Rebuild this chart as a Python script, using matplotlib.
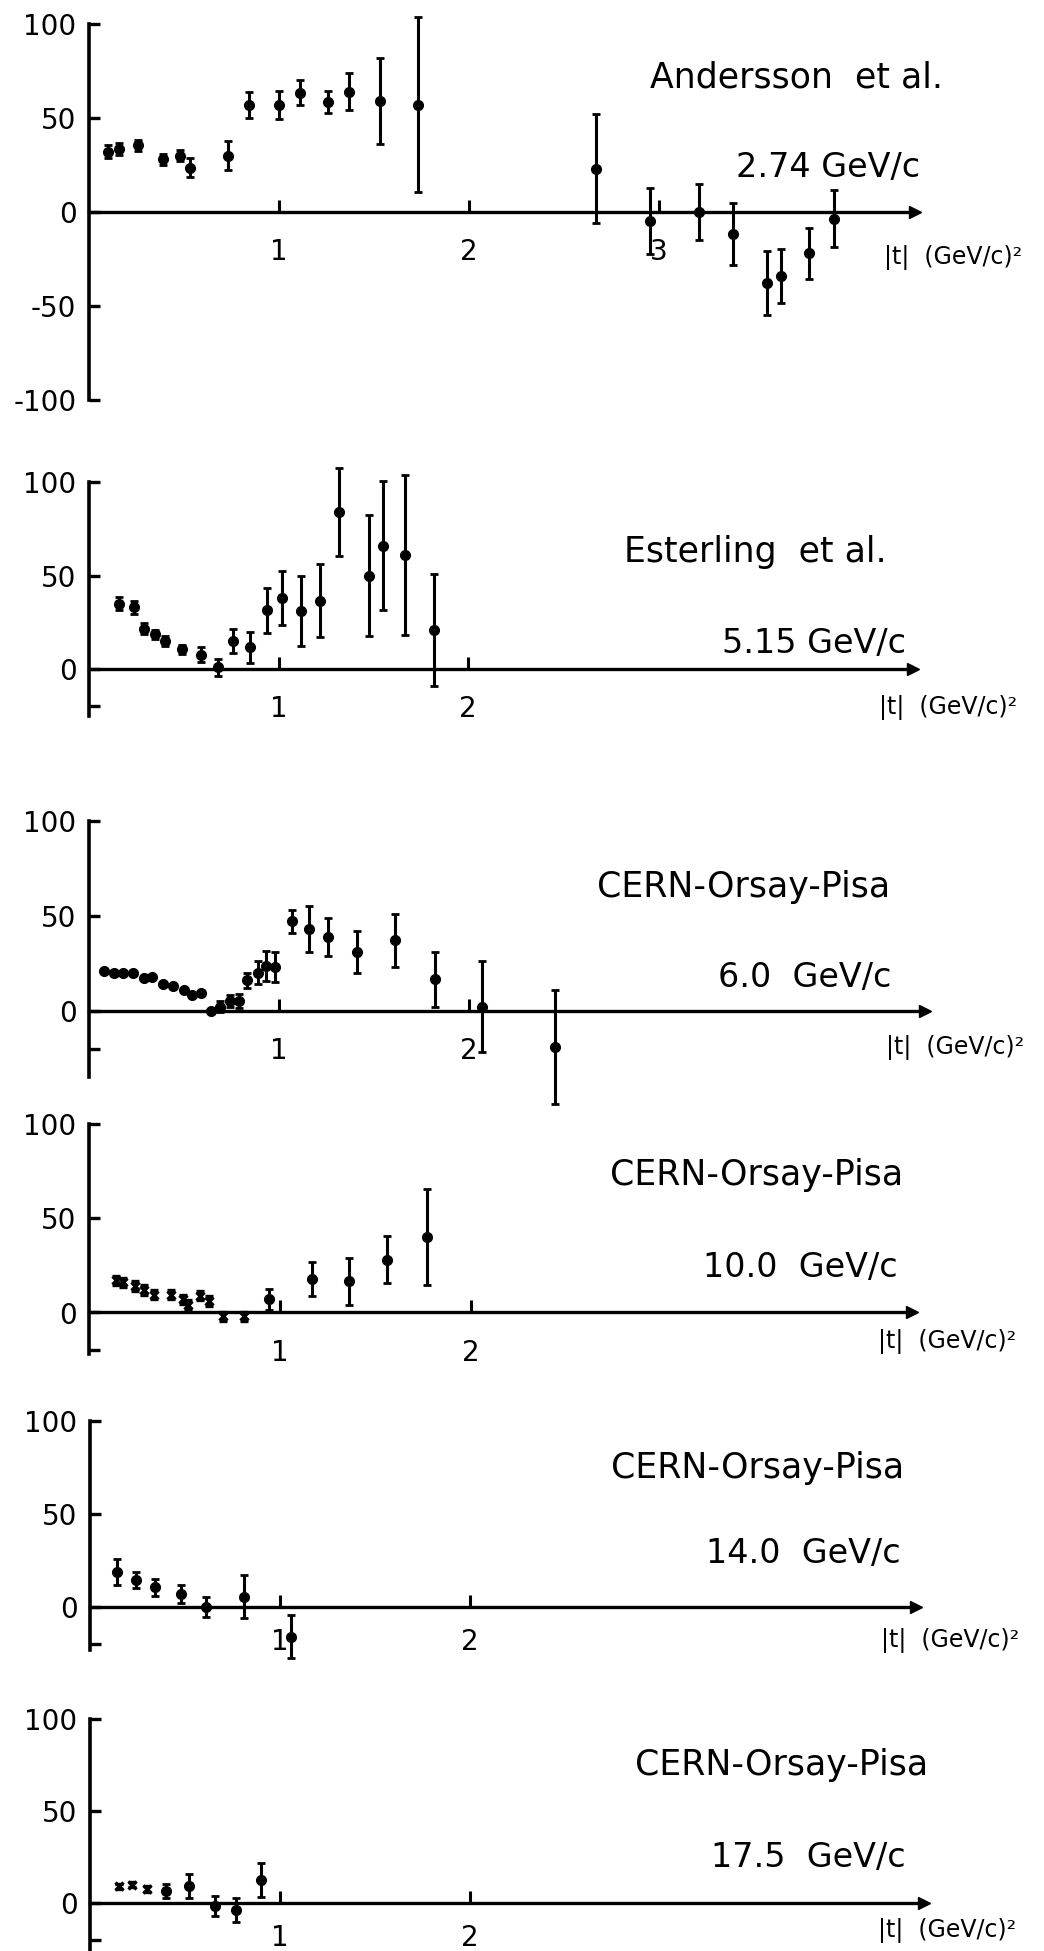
import matplotlib
matplotlib.use("Agg")
import matplotlib.pyplot as plt

W, H = 1044, 1951

# Andersson et al. 2.74 GeV/c
t1 = [0.10, 0.16, 0.26, 0.39, 0.48, 0.53, 0.73, 0.84, 1.00, 1.11, 1.26, 1.37,
      1.53, 1.73, 2.67, 2.95, 3.21, 3.39, 3.57, 3.64, 3.79, 3.92]
v1 = [32, 33.5, 35.5, 28, 30, 23.5, 30, 57, 57, 63.5, 58.5, 64,
      59, 57, 23, -5, 0, -11.5, -38, -34, -22, -3.5]
e1 = [3.5, 3, 3, 3, 3, 5, 7.5, 7, 7.5, 6.5, 6, 10,
      23, 46.5, 29, 17.5, 15, 16.5, 17, 14.5, 13.5, 15]

# Esterling et al. 5.15 GeV/c
t2 = [0.16, 0.24, 0.29, 0.35, 0.40, 0.49, 0.59, 0.68, 0.76, 0.85, 0.94, 1.02,
      1.12, 1.22, 1.32, 1.48, 1.55, 1.67, 1.82]
v2 = [35, 33, 21.5, 18.5, 15, 10.5, 7.5, 1, 15, 11.5, 31.5, 38,
      31, 36.5, 84, 50, 66, 61, 21]
e2 = [3.5, 3.5, 3, 2.5, 2.5, 2.5, 4, 4.5, 6.5, 8.5, 12, 14.5,
      18.5, 19.5, 23.5, 32.5, 34.5, 43, 30]

# CERN-Orsay-Pisa 6.0 GeV/c
t3a = [0.08, 0.13, 0.18, 0.23, 0.29, 0.33, 0.39, 0.44, 0.50, 0.54, 0.59, 0.64]
v3a = [21, 20, 20, 19.5, 17, 17.5, 14, 13, 11, 8, 9, 0]
t3b = [0.69, 0.74, 0.79, 0.83, 0.89, 0.93, 0.98, 1.07, 1.16, 1.26, 1.41, 1.61,
       1.82, 2.07, 2.45]
v3b = [2, 5, 5, 16, 20, 23.5, 23, 47, 43, 38.5, 31, 37, 16.5, 2, -19]
e3b = [3, 3, 3.5, 4, 6, 8, 8, 6, 12, 10, 11, 14, 14.5, 24, 30]

# CERN-Orsay-Pisa 10.0 GeV/c
t4a = [0.14, 0.18, 0.24, 0.29, 0.34, 0.43, 0.49, 0.52, 0.58, 0.63, 0.70, 0.81]
v4a = [17, 16, 14, 12, 9.5, 9.5, 7, 4, 9, 6, -2, -2]
t4b = [0.94, 1.17, 1.36, 1.56, 1.77]
v4b = [7, 18, 16.5, 28, 40]
e4b = [5.5, 9, 12.5, 12.5, 25.5]

# CERN-Orsay-Pisa 14.0 GeV/c
t5 = [0.14, 0.24, 0.34, 0.48, 0.61, 0.81, 1.06]
v5 = [19, 14.5, 10.5, 7, 0, 5.5, -16]
e5 = [7, 4.5, 4.5, 5, 5.5, 11.5, 11.5]

# CERN-Orsay-Pisa 17.5 GeV/c
t6a = [0.15, 0.22, 0.30]
v6a = [9, 10, 7.5]
t6b = [0.40, 0.52, 0.66, 0.77, 0.90]
v6b = [6.5, 9, -1.5, -4, 12.5]
e6b = [4, 6.5, 5.5, 6.5, 9]

names = ["Andersson  et al.", "Esterling  et al.", "CERN-Orsay-Pisa",
         "CERN-Orsay-Pisa", "CERN-Orsay-Pisa", "CERN-Orsay-Pisa"]
momenta = ["2.74 GeV/c", "5.15 GeV/c", "6.0  GeV/c", "10.0  GeV/c",
           "14.0  GeV/c", "17.5  GeV/c"]
axis_label = "|t|  (GeV/c)\u00b2"

# layout in pixels: x of t=0, px per unit t, y of zero line, px per unit
geom = [
    (89, 190.0, 212, 1.88, 4.35, -100),
    (89, 189.5, 669, 1.87, 4.35, -25),
    (89, 190.0, 1010.5, 1.90, 4.40, -35),
    (89, 191.0, 1312.5, 1.887, 4.31, -22),
    (90, 190.0, 1607, 1.86, 4.35, -23),
    (90, 190.0, 1903, 1.84, 4.39, -26),
]
name_pos = [(796, 77), (755, 552), (744, 887), (757, 1175), (758, 1468), (782, 1765)]
mom_pos = [(828, 168), (814, 643), (805, 977), (800, 1267), (803, 1553), (808, 1857)]
lab_pos = [(953, 258), (948, 708), (955, 1048), (947, 1342), (950, 1640), (947, 1930)]

plt.rcParams["font.family"] = "DejaVu Sans"
fig = plt.figure(figsize=(W / 100, H / 100), dpi=100)
fig.patch.set_facecolor("white")

err_kw = dict(fmt="o", color="k", ms=7, elinewidth=2.2, capsize=3,
              capthick=2.0, clip_on=False)
x_kw = dict(fmt="x", color="k", ms=6, mew=2.4, elinewidth=2.0, capsize=3,
            capthick=2.0, clip_on=False)

axes = []
for i, (x0, sx, y0, sy, xend, spine_lo) in enumerate(geom):
    ylo, yhi = -110, 110
    left = x0 / W
    width = xend * sx / W
    bottom = 1 - (y0 - ylo * sy) / H
    height = (yhi - ylo) * sy / H
    ax = fig.add_axes([left, bottom, width, height])
    ax.set_xlim(0, xend)
    ax.set_ylim(ylo, yhi)
    ax.patch.set_alpha(0)
    ax.spines["top"].set_visible(False)
    ax.spines["right"].set_visible(False)
    ax.spines["left"].set_bounds(spine_lo, 100)
    ax.spines["left"].set_linewidth(2.6)
    ax.spines["bottom"].set_position(("data", 0))
    ax.spines["bottom"].set_linewidth(2.4)
    ax.plot(1, 0, ">k", ms=8, transform=ax.get_yaxis_transform(), clip_on=False)

    if i == 0:
        ax.set_yticks([-100, -50, 0, 50, 100])
        ax.set_yticklabels(["-100", "-50", "0", "50", "100"])
        ax.set_xticks([1, 2, 3])
    else:
        ax.set_yticks([-20, 0, 50, 100])
        ax.set_yticklabels(["", "0", "50", "100"])
        ax.set_xticks([1, 2])
    ax.tick_params(axis="y", direction="in", length=8, width=2.4, pad=9, labelsize=20)
    ax.tick_params(axis="x", direction="in", length=9, width=2.2,
                   pad=19 if i < 4 else 15, labelsize=20)
    axes.append(ax)

    fig.text(name_pos[i][0] / W, 1 - name_pos[i][1] / H, names[i],
             ha="center", va="center", fontsize=25)
    fig.text(mom_pos[i][0] / W, 1 - mom_pos[i][1] / H, momenta[i],
             ha="center", va="center", fontsize=24)
    fig.text(lab_pos[i][0] / W, 1 - lab_pos[i][1] / H, axis_label,
             ha="center", va="center", fontsize=17)

axes[0].errorbar(t1, v1, yerr=e1, **err_kw)
axes[1].errorbar(t2, v2, yerr=e2, **err_kw)
axes[2].plot(t3a, v3a, "o", color="k", ms=7, clip_on=False)
axes[2].errorbar(t3b, v3b, yerr=e3b, **err_kw)
axes[3].errorbar(t4a, v4a, yerr=2.5, **x_kw)
axes[3].errorbar(t4b, v4b, yerr=e4b, **err_kw)
axes[4].errorbar(t5, v5, yerr=e5, **err_kw)
axes[5].errorbar(t6a, v6a, yerr=1.5, **x_kw)
axes[5].errorbar(t6b, v6b, yerr=e6b, **err_kw)

fig.savefig("out.png", dpi=100)
